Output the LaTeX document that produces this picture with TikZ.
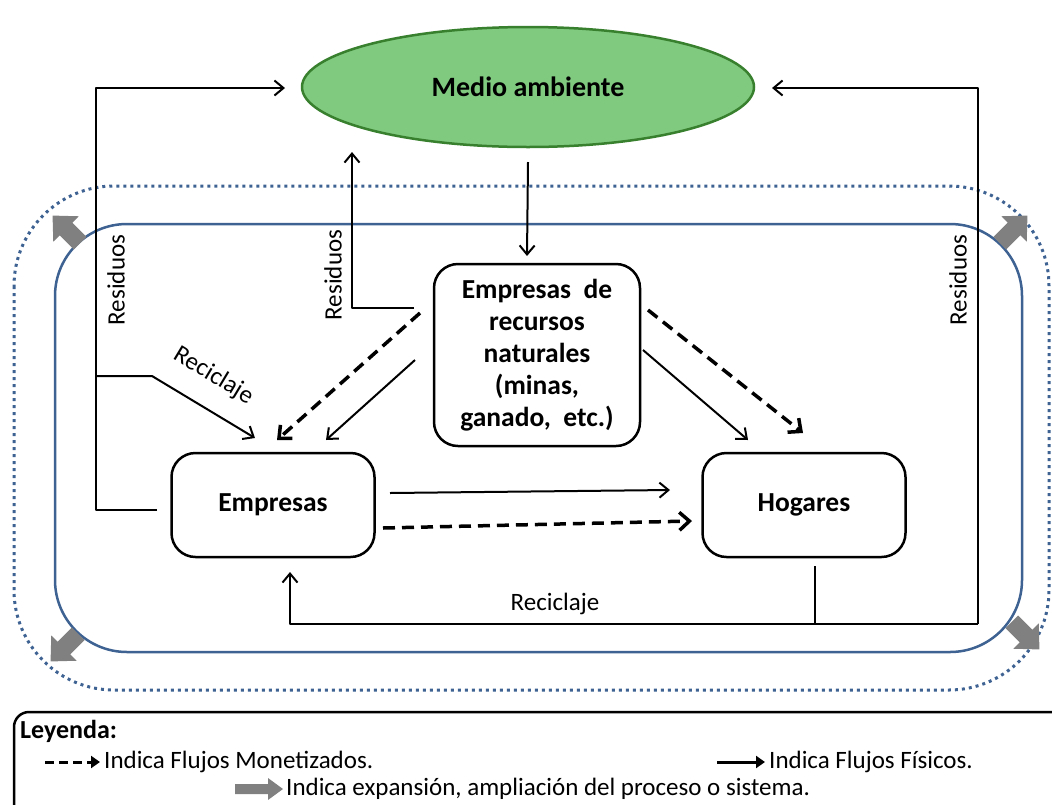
\documentclass[tikz,border=0pt]{standalone}
\usepackage{fontspec}
\setmainfont{Carlito}
\usetikzlibrary{shapes.geometric,arrows.meta}
\definecolor{verde}{RGB}{128,202,128}
\definecolor{verdeborde}{RGB}{56,128,46}
\definecolor{azul}{RGB}{62,98,146}
\definecolor{gris}{RGB}{128,128,128}
\begin{document}
\begin{tikzpicture}[x=1pt, y=-1pt, line join=round, >={Straight Barb[length=9pt,width=15pt]},
	caja/.style={draw, line width=2.5pt, rounded corners=24pt, align=center, font=\fontsize{27.5}{32}\selectfont\bfseries},
	fis/.style={->, line width=2pt},
	mon/.style={->, >={Straight Barb[length=10pt,width=18pt]}, line width=3.5pt, dash pattern=on 12pt off 7pt},
	etq/.style={font=\fontsize{25}{30}\selectfont, inner sep=1pt},
	flecha/.pic={\fill[gris] (-20,-9) -- (0,-9) -- (0,-18) -- (19,0) -- (0,18) -- (0,9) -- (-20,9) -- cycle;}]
	\useasboundingbox (0,0) rectangle (1052,804);
	% sistemas (actual y ampliado)
	\draw[azul, line width=3pt, dash pattern=on 3pt off 4pt, rounded corners=100pt] (14,186) rectangle (1049,690);
	\draw[azul, line width=2.5pt, rounded corners=72pt] (55,224) rectangle (1022,652);
	\pic[rotate=135] at (66,229) {flecha};
	\pic[rotate=45] at (1014,229) {flecha};
	\pic[rotate=225] at (64,648) {flecha};
	\pic[rotate=-45] at (1026,636) {flecha};
	% nodos
	\node[ellipse, draw=verdeborde, fill=verde, line width=2.5pt, minimum width=452pt, minimum height=120pt, font=\fontsize{28}{32}\selectfont\bfseries] (medio) at (528,87) {Medio ambiente};
	\node[caja, minimum width=206pt, minimum height=182pt] (recursos) at (537,355) {Empresas\ \ de\\recursos\\naturales\\(minas,\\ganado,\ \ etc.)};
	\node[caja, minimum width=203pt, minimum height=104pt] (empresas) at (273,505) {Empresas};
	\node[caja, minimum width=203pt, minimum height=104pt] (hogares) at (804,505) {Hogares};
	% puntos de paso
	\coordinate (resA) at (157,510);
	\coordinate (esqA) at (96,88);
	\coordinate (medA) at (285,88);
	\coordinate (recA) at (96,376);
	\coordinate (recB) at (152,376);
	\coordinate (empA) at (255,438);
	\coordinate (resB) at (414,308);
	\coordinate (medB) at (352,152);
	\coordinate (hogA) at (815,566);
	\coordinate (esqB) at (978,624);
	\coordinate (empB) at (290,572);
	\coordinate (medC) at (772,88);
	% flujos
	\draw[fis] (resA) -| (esqA) -- (medA);
	\draw[fis] (recA) -- (recB) -- (empA);
	\draw[fis] (resB) -| (medB);
	\draw[fis] (medio.south |- 0,162) -- (527,256);
	\draw[mon] (420,313) -- (277,440);
	\draw[fis] (415,360) -- (326,440);
	\draw[fis] (643,350) -- (748,440);
	\draw[mon] (648,310) -- (803,433);
	\draw[fis] (390,493) -- (670,490);
	\draw[mon] (383,528) -- (692,521);
	\draw[line width=2pt] (hogA) -- (hogA |- esqB);
	\draw[fis] (esqB) -| (empB);
	\draw[fis] (esqB) -- (esqB |- medC) -- (medC);
	% etiquetas
	\node[etq, rotate=90] (lresA) at (116,280) {Residuos};
	\node[etq, rotate=90] (lresB) at (333,275) {Residuos};
	\node[etq, rotate=90] (lresC) at (958,280) {Residuos};
	\node[etq, rotate=-31] (lrecA) at (214,376) {Reciclaje};
	\node[etq] (lrecB) at (555,604) {Reciclaje};
	% leyenda
	\draw[line width=2.5pt, rounded corners=15pt] (14,712) rectangle (1075,830);
	\node[anchor=west, font=\fontsize{26}{30}\selectfont\bfseries, inner sep=0pt] (leyenda) at (20,731) {Leyenda:};
	\coordinate (lmA) at (45,762);
	\coordinate (lmB) at (100,762);
	\coordinate (lfA) at (717,762);
	\coordinate (lfB) at (765,762);
	\draw[->, >={Triangle[length=9pt,width=12pt]}, line width=3pt, dash pattern=on 9pt off 5pt] (lmA) -- (lmB);
	\node[etq, anchor=west] (lmon) at (103,762) {Indica Flujos Monetizados.};
	\draw[->, >={Triangle[length=9pt,width=12pt]}, line width=3pt] (lfA) -- (lfB);
	\node[etq, anchor=west] (lfis) at (768,762) {Indica Flujos Físicos.};
	\fill[gris] (235,784) -- (268,784) -- (268,778) -- (283,789) -- (268,800) -- (268,794) -- (235,794) -- cycle;
	\node[etq, anchor=west] (lexp) at (285,789) {Indica expansión, ampliación del proceso o sistema.};
\end{tikzpicture}
\end{document}
